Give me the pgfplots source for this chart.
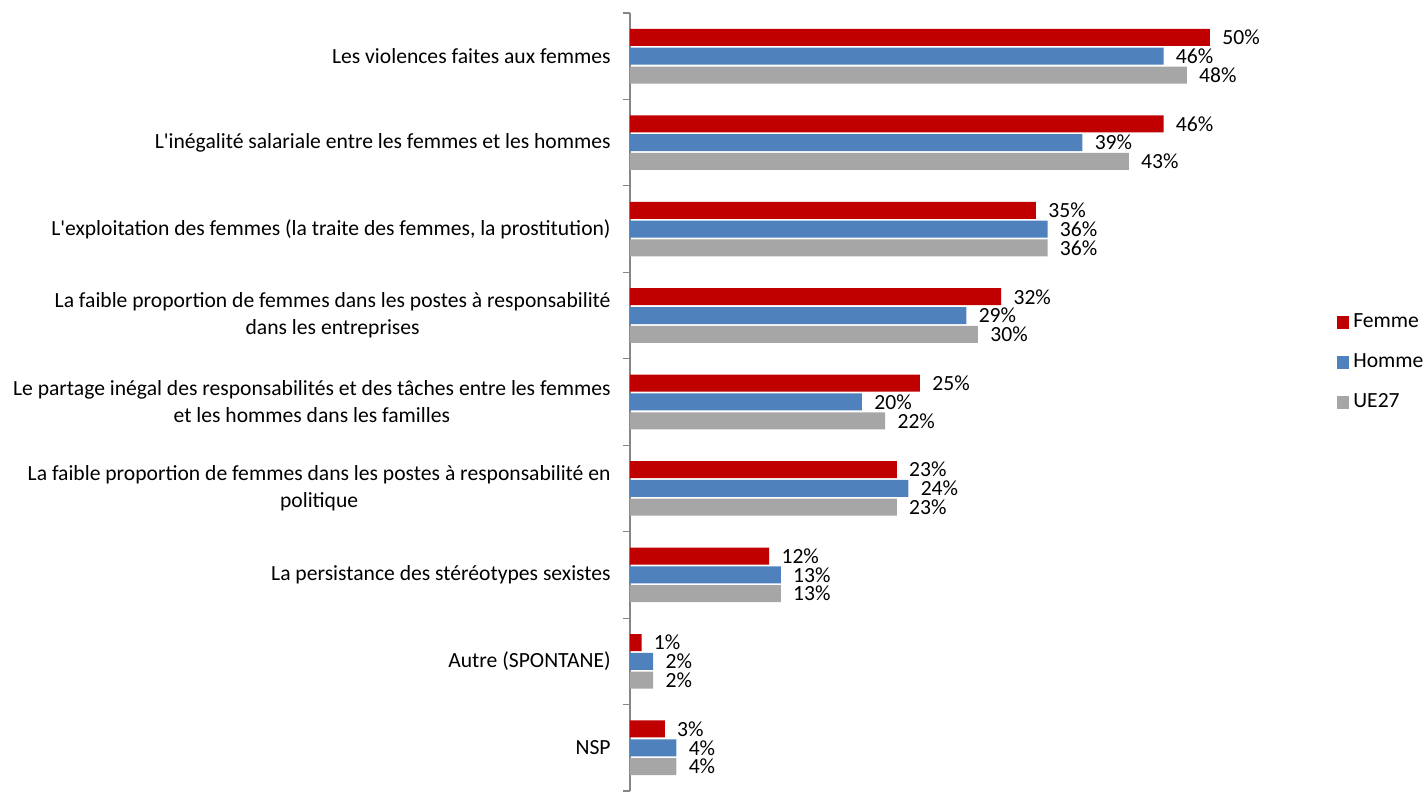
\documentclass[border=0pt]{standalone}
\usepackage{pgfplots}
\pgfplotsset{compat=1.18}
\usepackage{fontspec}
\setmainfont{Carlito}
\definecolor{cRed}{HTML}{C00000}
\definecolor{cBlue}{HTML}{4F81BD}
\definecolor{cGrey}{HTML}{A6A6A6}
\definecolor{axgray}{HTML}{868686}
\newcommand{\lf}{\fontsize{10.8}{13.5}\selectfont}
\begin{document}
\begin{tikzpicture}
\begin{axis}[name=ax, scale only axis, width=348pt, height=389pt,
  xmin=0, xmax=60, ymin=-0.5, ymax=8.5,
  xbar, bar width=8.5pt, clip=false,
  /pgf/number format/assume math mode=true,
  axis x line=none, axis y line*=left,
  axis line style={axgray, line width=0.6pt},
  ytick={0,...,8},
  yticklabels={NSP, Autre (SPONTANE), La persistance des stéréotypes sexistes,
    {La faible proportion de femmes dans les postes à responsabilité en\\politique},
    {Le partage inégal des responsabilités et des tâches entre les femmes\\et les hommes dans les familles},
    {La faible proportion de femmes dans les postes à responsabilité\\dans les entreprises},
    {L\textquotesingle exploitation des femmes (la traite des femmes, la prostitution)},
    {L\textquotesingle inégalité salariale entre les femmes et les hommes},
    {Les violences faites aux femmes}},
  major tick length=0pt,
  minor ytick={-0.5,0.5,...,8.5},
  minor tick length=3.5pt, tick align=outside,
  tick style={axgray, line width=0.6pt},
  yticklabel style={align=center, font=\lf, inner sep=0pt, xshift=-9.5pt},
  nodes near coords={\pgfmathprintnumber{\pgfplotspointmeta}\%},
  every node near coord/.append style={anchor=west, inner sep=0pt, xshift=6pt, font=\lf, text=black},
  legend style={at={(1.006,0.551)}, anchor=west, draw=none, fill=none, font=\lf, row sep=7.6pt},
  legend cell align=left,
  legend image code/.code={\fill[#1] (0pt,-3.2pt) rectangle (6.4pt,3.2pt);},
]
\addplot[fill=cRed, draw=none, bar shift=9.4pt] coordinates {
 (50,8) (46,7) (35,6) (32,5) (25,4) (23,3) (12,2) (1,1) (3,0)};
\addplot[fill=cBlue, draw=none, bar shift=0pt] coordinates {
 (46,8) (39,7) (36,6) (29,5) (20,4) (24,3) (13,2) (2,1) (4,0)};
\addplot[fill=cGrey, draw=none, bar shift=-9.4pt] coordinates {
 (48,8) (43,7) (36,6) (30,5) (22,4) (23,3) (13,2) (2,1) (4,0)};
\legend{Femme, Homme, UE27}
\end{axis}
\pgfresetboundingbox
\path[use as bounding box] ([xshift=-315pt,yshift=-0.5pt]ax.south west) rectangle ++(712.5pt,396pt);
\end{tikzpicture}
\end{document}
